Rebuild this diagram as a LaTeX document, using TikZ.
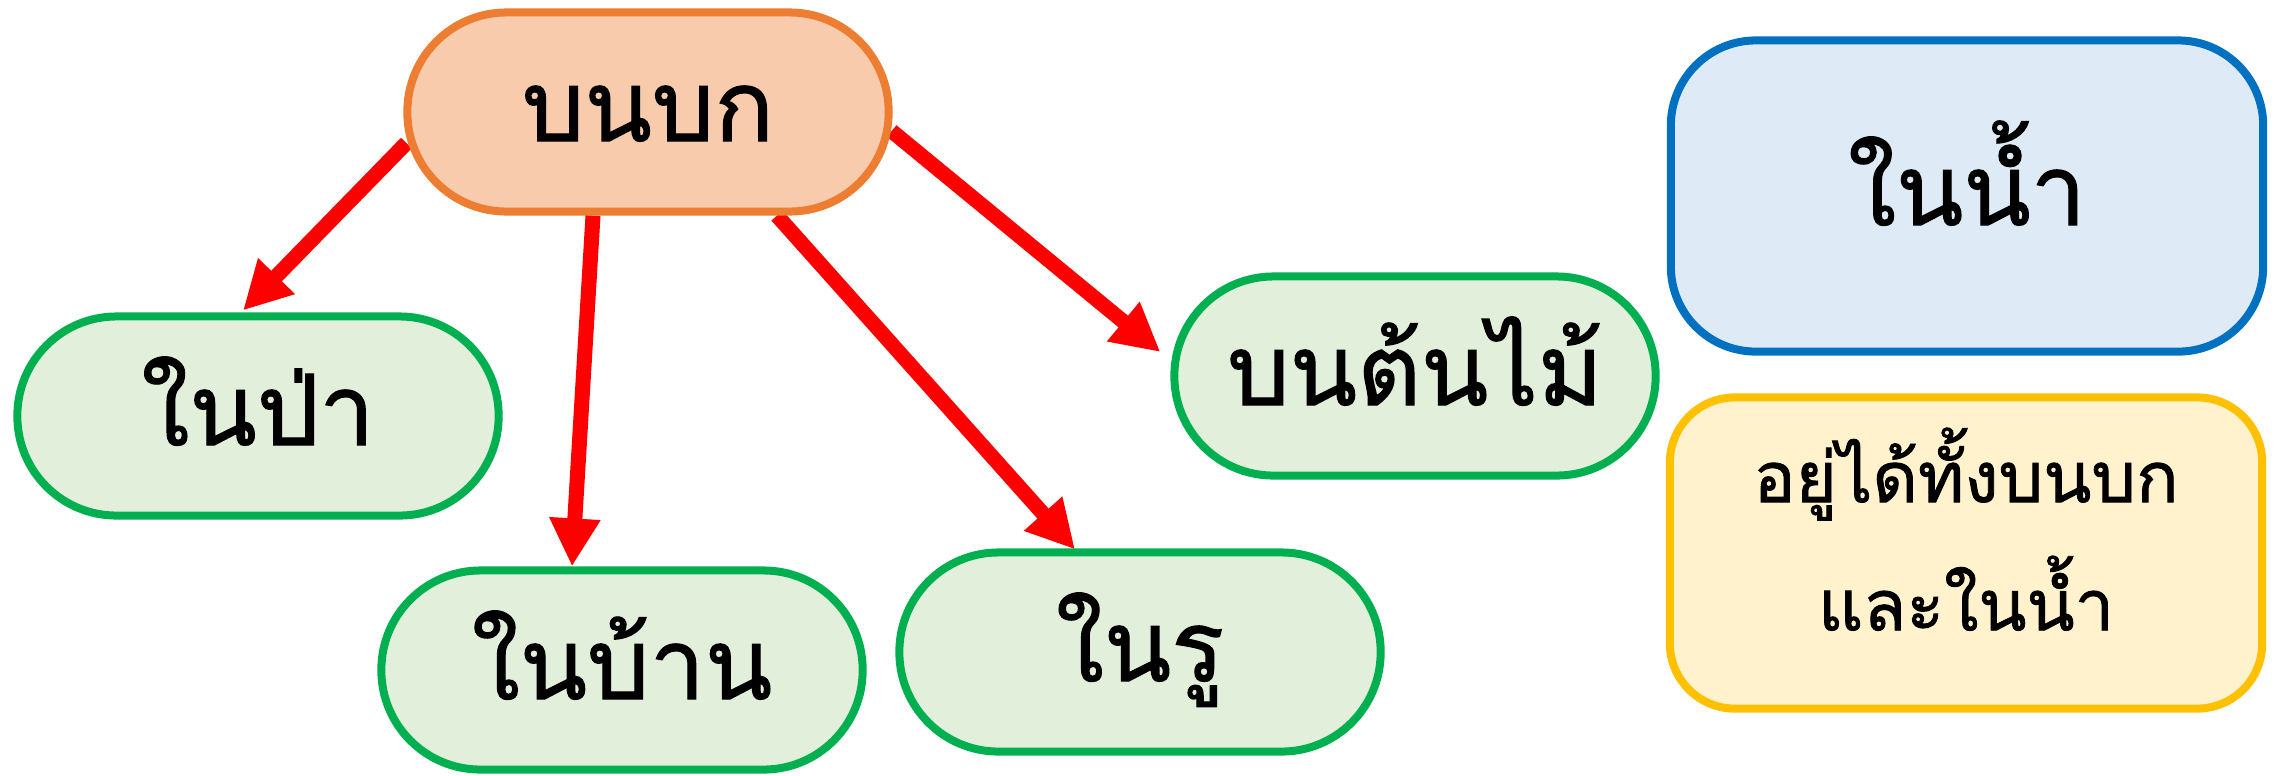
\documentclass[tikz,border=0pt]{standalone}
\usepackage{fontspec}
\newfontfamily\thai[Script=Thai,FakeBold=1.2]{Loma}
\usetikzlibrary{arrows.meta,calc}
\definecolor{orfill}{HTML}{F8CBAD}
\definecolor{ordraw}{HTML}{ED7D31}
\definecolor{grfill}{HTML}{E2EFDA}
\definecolor{grdraw}{HTML}{00B050}
\definecolor{blfill}{HTML}{DEEBF7}
\definecolor{bldraw}{HTML}{0070C0}
\definecolor{yefill}{HTML}{FFF2CC}
\definecolor{yedraw}{HTML}{FFC000}
\definecolor{arrred}{HTML}{FF0000}
\pgfdeclarelayer{bg}
\pgfsetlayers{bg,main}
\tikzset{
  bigfont/.style={font=\thai\fontsize{28pt}{34pt}\selectfont, text height=1.0cm, text depth=0.42cm},
  pill/.style={draw, line width=0.08cm, rounded corners=0.99cm,
    minimum width=4.81cm, minimum height=1.99cm, inner sep=0pt, bigfont},
  orpill/.style={pill, fill=orfill, draw=ordraw},
  grpill/.style={pill, fill=grfill, draw=grdraw},
  bigbox/.style={draw, line width=0.08cm, minimum width=5.92cm, minimum height=3.11cm, inner sep=0pt},
  link/.style={draw=arrred, line width=0.15cm, -{Triangle[length=0.48cm,width=0.48cm]}}
}
\begin{document}
\begin{tikzpicture}[x=0.01cm,y=-0.01cm]
\useasboundingbox (0,0) rectangle (2280,775);
\node[orpill] (bonbok) at (648,112) {บนบก};
\node[grpill] (napa) at (258,416) {ในป่า};
\node[grpill] (nabaan) at (622,670) {ในบ้าน};
\node[grpill] (naru) at (1140,652) {ในรู};
\node[grpill] (tonmai) at (1415,376) {บนต้นไม้};
\node[bigbox, fill=blfill, draw=bldraw, rounded corners=0.85cm, bigfont] (nainam) at (1967,196) {ในน้ำ};
\node[bigbox, fill=yefill, draw=yedraw, rounded corners=0.65cm, align=center,
  font=\thai\fontsize{20pt}{1.28cm}\selectfont] (both) at (1966,553)
  {\rule[-0.48cm]{0pt}{0.9cm}อยู่ได้ทั้งบนบก\\\rule[-0.48cm]{0pt}{0.9cm}และในน้ำ};
\begin{pgfonlayer}{bg}
\draw[link] ($(bonbok.west)+(3,31)$) -- ($(napa.north)+(-15,-2)$);
\draw[link] ($(bonbok.south)+(-55,0)$) -- ($(nabaan.north)+(-50,0)$);
\draw[link] ($(bonbok.south)+(129,0)$) -- ($(naru.north)+(-65,1)$);
\draw[link] ($(bonbok.east)+(-1,19)$) -- ($(tonmai.west)+(-10,-24)$);
\end{pgfonlayer}
\end{tikzpicture}
\end{document}
